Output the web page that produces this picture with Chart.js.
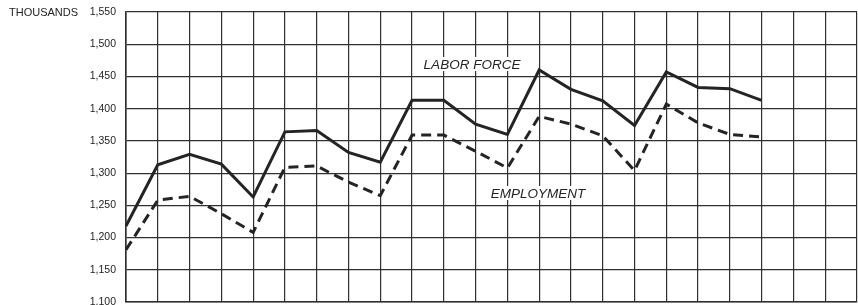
<!DOCTYPE html>
<html>
<head>
<meta charset="utf-8">
<script src="https://cdn.jsdelivr.net/npm/chart.js@4/dist/chart.umd.min.js"></script>
<style>
  html, body { margin: 0; padding: 0; background: #fff; }
  #wrap { width: 858px; height: 305px; position: relative; }
</style>
</head>
<body>
<div id="wrap"><canvas id="chart"></canvas></div>
<script>
const INK = '#242424';
const GRID = '#303030';

// periods along the horizontal axis (grid columns)
const periods = ['1', '2', '3', '4', '5', '6', '7', '8', '9', '10', '11', '12',
  '13', '14', '15', '16', '17', '18', '19', '20', '21', '22', '23', '24'];

const laborForce = [1218, 1313, 1329, 1314, 1263, 1364, 1366, 1332, 1317, 1413, 1413,
  1376, 1360, 1460, 1430, 1412, 1374, 1457, 1433, 1431, 1413];
const employment = [1181, 1258, 1264, 1237, 1208, 1309, 1311, 1286, 1265, 1359, 1359,
  1334, 1308, 1388, 1376, 1358, 1304, 1407, 1378, 1360, 1356];

const yTicks = [1100, 1150, 1200, 1250, 1300, 1350, 1400, 1450, 1500, 1550];

const notes = [
  { text: 'LABOR FORCE', x: 472, y: 64 },
  { text: 'EMPLOYMENT', x: 538, y: 193 },
];

const noPadding = axis => {
  axis.paddingTop = 0;
  axis.paddingBottom = 0;
  axis.paddingLeft = 0;
  axis.paddingRight = 0;
};

const labelPlugin = {
  id: 'labels',
  afterDatasetsDraw(chart) {
    const ctx = chart.ctx;
    ctx.save();
    ctx.font = 'italic 13.5px "Liberation Sans", Arial, sans-serif';
    ctx.textAlign = 'center';
    ctx.textBaseline = 'middle';
    notes.forEach(n => {
      const w = ctx.measureText(n.text).width;
      ctx.fillStyle = '#fff';
      ctx.fillRect(n.x - w / 2 - 3, n.y - 7, w + 6, 14);
      ctx.fillStyle = INK;
      ctx.fillText(n.text, n.x, n.y + 1);
    });
    ctx.font = '11px "Liberation Sans", Arial, sans-serif';
    ctx.textAlign = 'left';
    ctx.fillText('THOUSANDS', 9, chart.scales.y.getPixelForValue(1550) + 1);
    ctx.restore();
  },
};

new Chart(document.getElementById('chart'), {
  type: 'line',
  data: {
    labels: periods,
    datasets: [
      {
        label: 'Labor force',
        data: laborForce,
        borderColor: INK,
        borderWidth: 3,
        pointRadius: 0,
        tension: 0,
      },
      {
        label: 'Employment',
        data: employment,
        borderColor: INK,
        borderWidth: 3,
        borderDash: [10, 6],
        pointRadius: 0,
        tension: 0,
      },
    ],
  },
  options: {
    responsive: true,
    maintainAspectRatio: false,
    animation: false,
    layout: { padding: { top: 12, right: 1, bottom: 2, left: 0 } },
    plugins: { legend: { display: false }, tooltip: { enabled: false } },
    scales: {
      x: {
        offset: false,
        afterFit: axis => { axis.height = 1; noPadding(axis); },
        ticks: { display: false },
        grid: { color: GRID, lineWidth: 1.2, drawTicks: false },
        border: { color: GRID, width: 1.6 },
      },
      y: {
        min: 1100,
        max: 1550,
        afterBuildTicks: axis => { axis.ticks = yTicks.map(v => ({ value: v })); },
        afterFit: axis => { axis.width = 126; noPadding(axis); },
        ticks: {
          padding: 10,
          color: INK,
          font: { family: '"Liberation Sans", Arial, sans-serif', size: 10.5 },
          callback: v => v.toLocaleString('en-US'),
        },
        grid: { color: GRID, lineWidth: 1.2, drawTicks: false },
        border: { color: GRID, width: 1.6 },
      },
    },
  },
  plugins: [labelPlugin],
});
</script>
</body>
</html>
